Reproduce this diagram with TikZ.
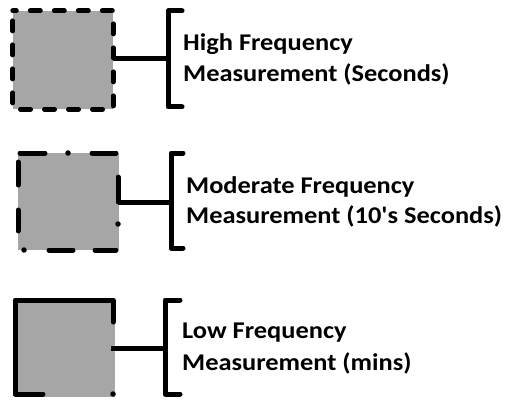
\documentclass[tikz,border=0pt]{standalone}
\usepackage{fontspec}
\newfontfamily\lblfont{Carlito}[FakeStretch=1.1]
\definecolor{boxgray}{RGB}{166,166,166}
\begin{document}
\begin{tikzpicture}[x=1pt,y=-1pt,
  boxfill/.style={rectangle,fill=boxgray,draw=none,inner sep=0pt},
  edge/.style={line width=5pt,line cap=round,line join=round},
  dotmark/.style={fill=black,circle,inner sep=0pt,minimum size=5.5pt},
  brack/.style={line width=5pt,line cap=round,line join=round},
  conn/.style={line width=5pt},
  lbl/.style={anchor=base west,inner sep=0pt,font=\lblfont\bfseries\fontsize{24}{28}\selectfont}]
\useasboundingbox (0,0) rectangle (508,401);

% ---- box 1: dashed ----
\node[boxfill,minimum width=100pt,minimum height=98pt] (b1) at (63,60) {};
\draw[edge,dash pattern=on 10pt off 14pt,dash phase=6.5pt]
  (b1.north west) -- (b1.north east) -- (b1.south east) -- (b1.south west) -- cycle;
\coordinate (k1) at (168,59);
\draw[conn] (b1.east |- k1) -- (k1);
\draw[brack] (182,11) -- (168,11) -- (168,107) -- (182,107);
\node[lbl] (t1a) at (183,51) {High Frequency};
\node[lbl] (t1b) at (183,82) {Measurement (Seconds)};

% ---- box 2: dash-dot ----
\node[boxfill,minimum width=101pt,minimum height=97pt] (b2) at (68.5,201.5) {};
\draw[edge] (20,153) -- (45,153);
\node[dotmark] (d2a) at (68,153) {};
\draw[edge] (92,153) -- (116,153);
\draw[edge] (118,177) -- (118,202);
\node[dotmark] (d2b) at (118,224) {};
\draw[edge] (95,250) -- (116,250);
\draw[edge] (49,250) -- (73,250);
\node[dotmark] (d2c) at (24,250) {};
\draw[edge] (18,162) -- (18,185);
\draw[edge] (18,210) -- (18,231);
\coordinate (k2) at (171,202);
\draw[conn] (118,202) -- (k2);
\draw[brack] (183,153) -- (171,153) -- (171,248) -- (183,248);
\node[lbl] (t2a) at (186,193) {Moderate Frequency};
\node[lbl] (t2b) at (186,223) {Measurement (10's Seconds)};

% ---- box 3: long dash ----
\node[boxfill,minimum width=100pt,minimum height=97pt] (b3) at (65,348.5) {};
\draw[edge] (113,322) -- (113,300) -- (15,300) -- (15,394) -- (43,394);
\node[dotmark] (d3a) at (113,394) {};
\coordinate (k3) at (165,348);
\draw[conn] (111,348) -- (k3);
\draw[brack] (180,300) -- (165,300) -- (165,394) -- (180,394);
\node[lbl] (t3a) at (182,338) {Low Frequency};
\node[lbl] (t3b) at (182,370) {Measurement (mins)};
\end{tikzpicture}
\end{document}
